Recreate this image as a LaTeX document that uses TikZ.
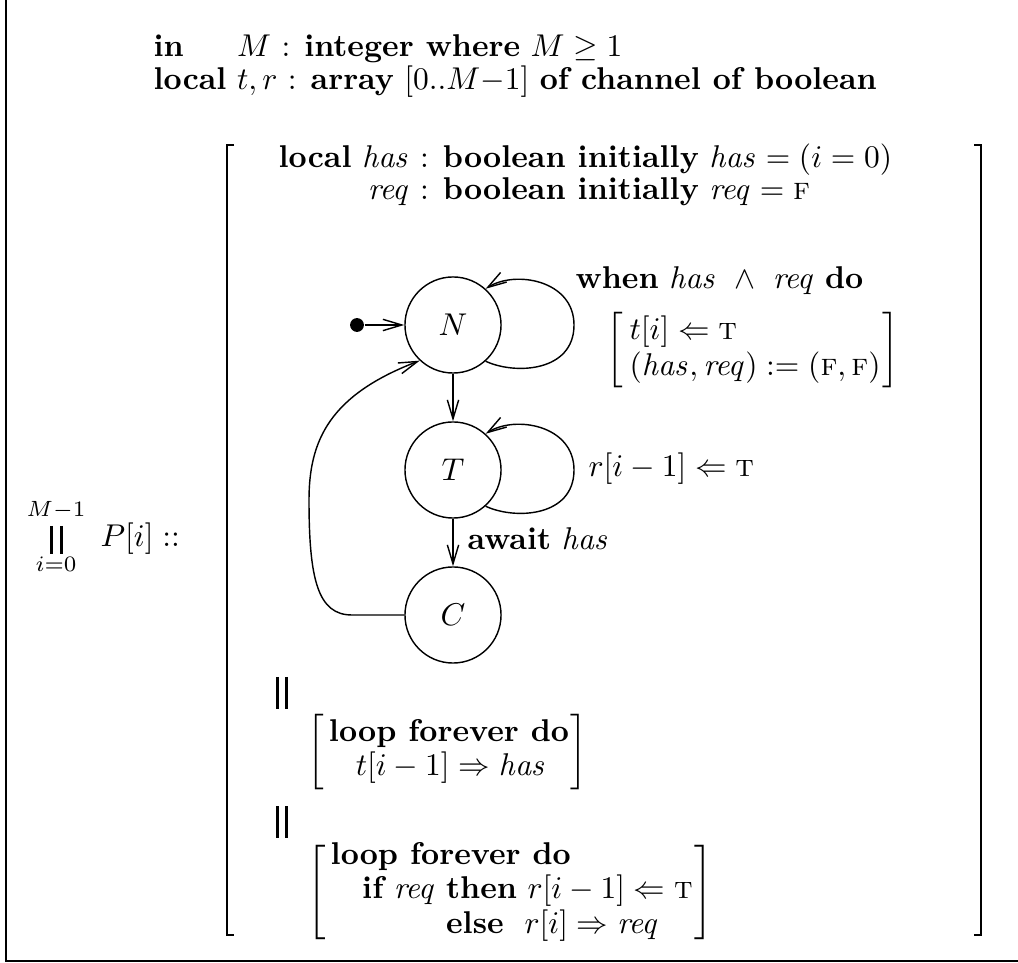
\documentclass[tikz,border=0pt]{standalone}
\usetikzlibrary{arrows.meta}
\newcommand{\vT}{\textsc{t}}
\newcommand{\vF}{\textsc{f}}
\begin{document}
\begin{tikzpicture}[x=0.3175pt,y=0.3175pt,
  lbl/.style={inner sep=0pt, font=\fontsize{10}{12}\selectfont},
  st/.style={circle, draw, line width=0.45pt, minimum size=30.5pt, inner sep=0pt, font=\fontsize{10}{12}\selectfont},
  arr/.style={line width=0.45pt, -{Straight Barb[length=6pt,width=3.6pt,line width=0.45pt]}},
  frameline/.style={line width=0.8pt},
  bar/.style={line width=0.95pt},
]
\useasboundingbox (0,0) rectangle (1018,-963);
\draw[frameline] (6,0) -- (6,-961) -- (1018,-961);

% header
\node[lbl, anchor=base west] (h1) at (153,-57) {\rlap{\textbf{in}}\phantom{\textbf{local}} $M$ : \textbf{integer where} $M \geq 1$};
\node[lbl, anchor=base west] (h2) at (153,-90) {\textbf{local} $t, r$ : \textbf{array} $[0..M{-}1]$ \textbf{of channel of boolean}};

% big bracket
\draw[frameline] (234,-145) -- (227,-145) -- (227,-935) -- (234,-935);
\draw[frameline] (974,-145) -- (981,-145) -- (981,-935) -- (974,-935);

% local declarations
\node[lbl, anchor=base west] (loc) at (278,-168) {\renewcommand\arraystretch{0.82}\begin{tabular}[t]{@{}r@{}l@{}}\textbf{local} $\mathit{has}$ & \ : \textbf{boolean initially} $\mathit{has} = (i = 0)$\\ $\mathit{req}$ & \ : \textbf{boolean initially} $\mathit{req} = \vF$\end{tabular}};

% states
\node[st] (N) at (453,-325) {$N$};
\node[st] (T) at (453,-470) {$T$};
\node[st] (C) at (453,-615) {$C$};
\node[circle, fill, inner sep=0pt, minimum size=4.4pt] (init) at (357,-325) {};

\draw[arr] (init) -- (N);
\draw[arr] (N) -- (T);
\draw[arr] (T) -- (C);
\draw[arr] (N.-48) .. controls (515,-375) and (574,-372) .. (574,-325) .. controls (574,-280) and (515,-270) .. (N.48);
\draw[arr] (T.-48) .. controls (515,-520) and (574,-517) .. (574,-470) .. controls (574,-425) and (515,-415) .. (T.48);
\draw[arr] (C.west) -- (352,-615) .. controls (318,-615) and (309,-580) .. (309,-500) .. controls (309,-440) and (330,-395) .. (N.-133);

% transition labels
\node[lbl, anchor=base west] (when) at (575,-289) {\textbf{when} $\mathit{has}\ \wedge\ \mathit{req}$ \textbf{do}};
\node[lbl, anchor=west] (act) at (606,-350) {\renewcommand\arraystretch{0.95}$\left[\begin{array}{@{\hspace{2pt}}l@{\hspace{0.5pt}}} t[i] \Leftarrow \vT\\ (\mathit{has}, \mathit{req}) := (\vF, \vF)\end{array}\right]$};
\node[lbl, anchor=base west] (rl) at (588,-477) {$r[i-1] \Leftarrow \vT$};
\node[lbl, anchor=base west] (aw) at (467,-550) {\textbf{await} $\mathit{has}$};

% parallel operator
\draw[bar] (51.5,-526) -- (51.5,-554);
\draw[bar] (61.5,-526) -- (61.5,-554);
\node[lbl, anchor=base] (sup) at (56,-517) {$\scriptstyle M-1$};
\node[lbl, anchor=base] (sub) at (56,-572) {$\scriptstyle i=0$};
\node[lbl, anchor=base west] (P) at (100,-547) {$P[i] \mathrel{::}$};

% separators
\draw[bar] (277,-677) -- (277,-709);
\draw[bar] (286,-677) -- (286,-709);
\draw[bar] (277,-806) -- (277,-838);
\draw[bar] (286,-806) -- (286,-838);

% block 1
\node[lbl, anchor=west] (b1) at (307,-752) {\renewcommand\arraystretch{0.875}$\left[\begin{array}{@{\hspace{1.5pt}}l@{\hspace{0.5pt}}}\textbf{loop forever do}\\ \hspace{8.5pt}t[i-1] \Rightarrow \mathit{has}\end{array}\right]$};

% block 2
\node[lbl, anchor=west] (b2) at (307,-892) {\renewcommand\arraystretch{0.92}$\left[\begin{array}{@{\hspace{1.5pt}}l@{\hspace{0.5pt}}}\textbf{loop forever do}\\ \hspace{10pt}\textbf{if}\ \mathit{req}\ \textbf{then}\ r[i-1] \Leftarrow \vT\\ \hspace{10pt}\phantom{\textbf{if}\ \mathit{req}\ }\textbf{else}\ \ r[i] \Rightarrow \mathit{req}\end{array}\right]$};
\end{tikzpicture}
\end{document}
